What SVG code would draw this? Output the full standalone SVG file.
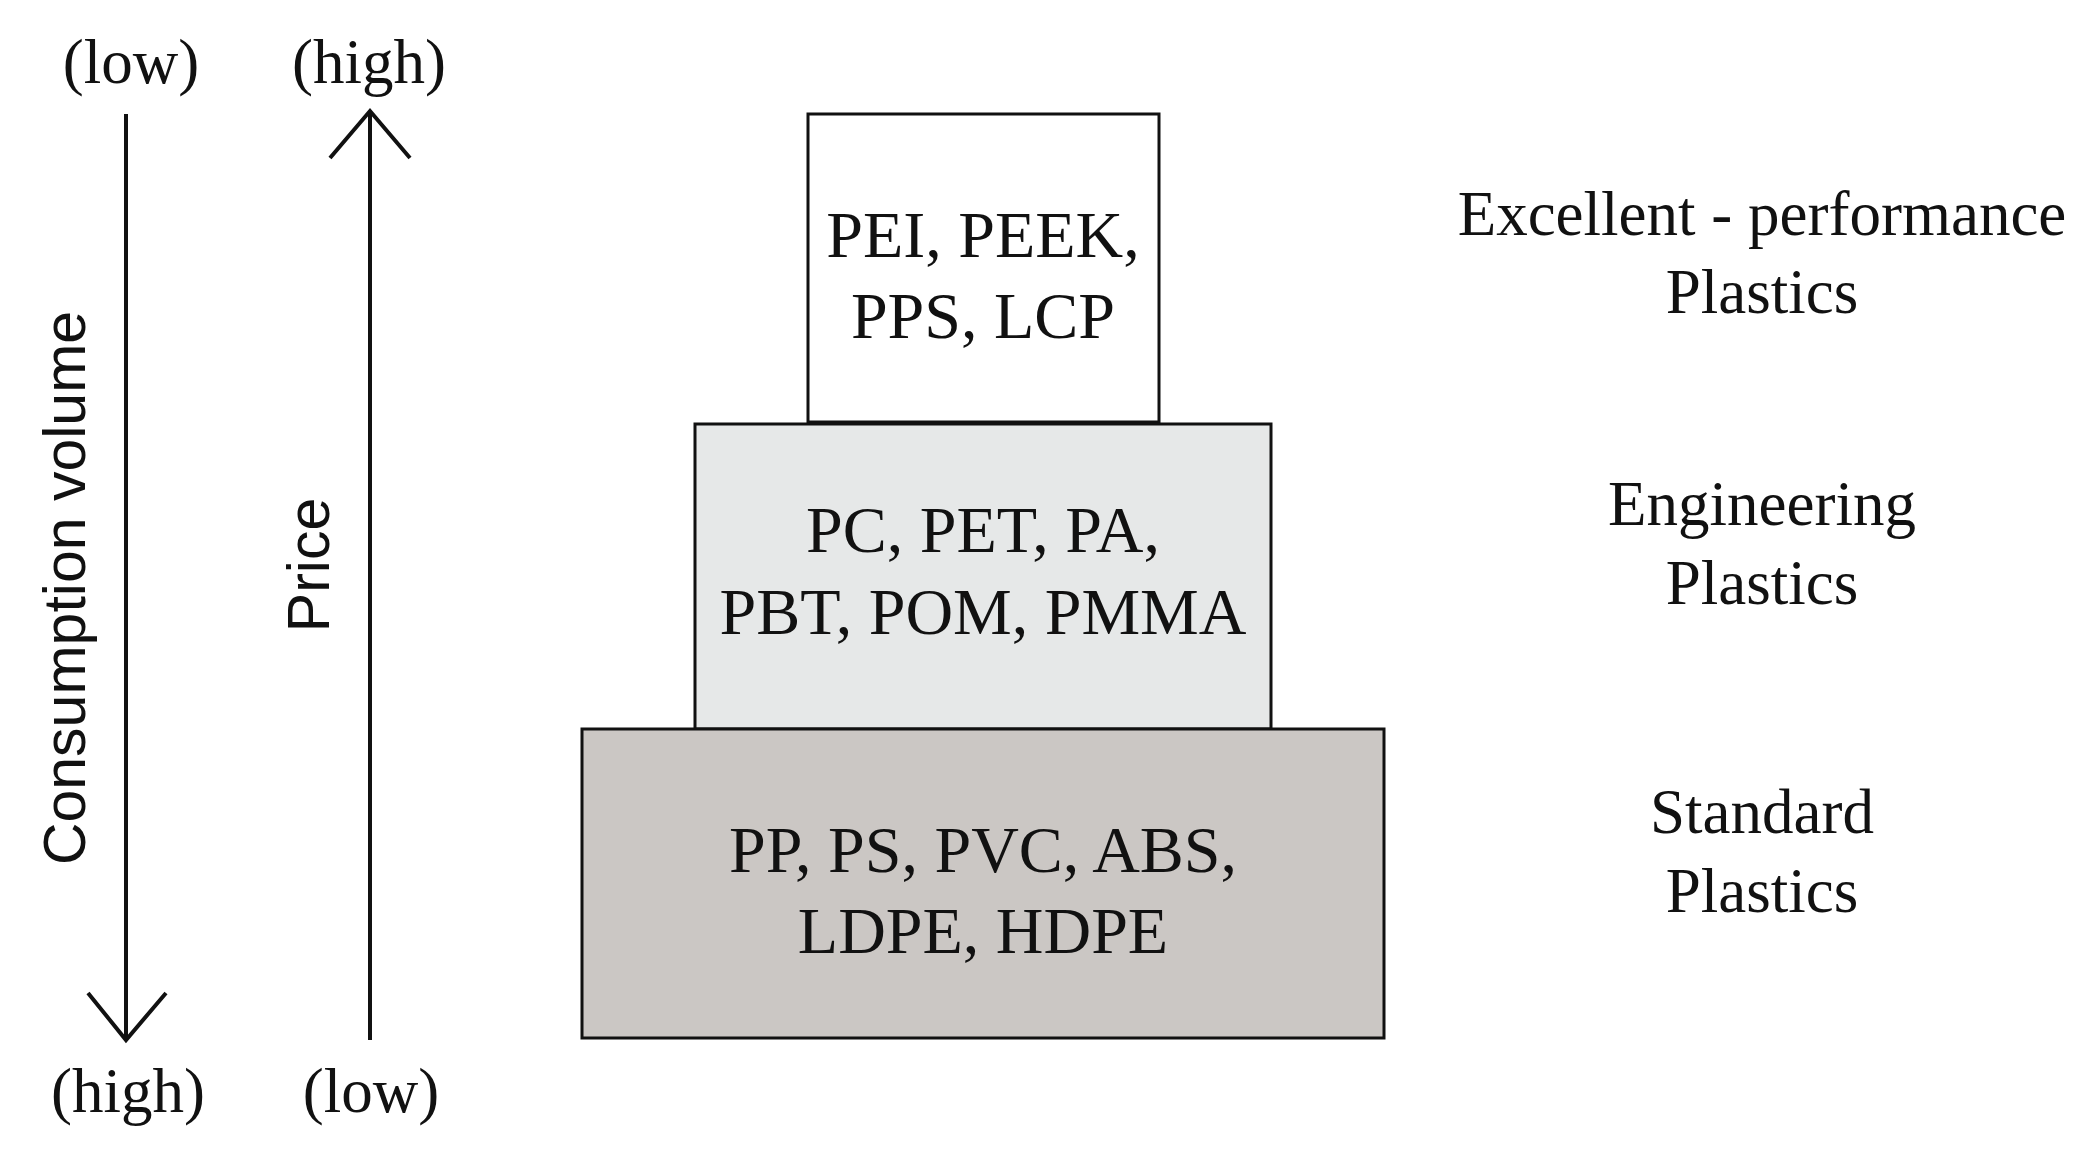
<svg xmlns="http://www.w3.org/2000/svg" width="2090" height="1157" viewBox="0 0 2090 1157">
<style>
.t{font-family:"Liberation Serif","Times New Roman",serif;font-size:66px;text-anchor:middle;fill:#111}
.l{font-family:"Liberation Serif","Times New Roman",serif;font-size:63px;text-anchor:middle;fill:#111}
.s{font-family:"Liberation Sans",Arial,sans-serif;font-size:59px;text-anchor:middle;fill:#111}
.b{stroke:#111;stroke-width:3}
.a{stroke:#111;stroke-width:4;fill:none}
</style>
<rect width="2090" height="1157" fill="#fff"/>
<g id="connectors">
<path class="a" d="M126 114V1038M88 993L126 1040L166 993"/>
<path class="a" d="M370 1040V113M330 158L370 111L410 158"/>
</g>
<g id="axis-labels">
<text class="l" x="131" y="83">(low)</text>
<text class="l" x="369" y="83">(high)</text>
<text class="l" x="128" y="1112">(high)</text>
<text class="l" x="371" y="1112">(low)</text>
<text class="s" transform="translate(85 588) rotate(-90)">Consumption volume</text>
<text class="s" transform="translate(329 565) rotate(-90)">Price</text>
</g>
<g id="top"><rect class="b" x="808" y="114" width="351" height="308" fill="#fff"/>
<text class="t" x="983" y="257">PEI, PEEK,</text><text class="t" x="983" y="338">PPS, LCP</text></g>
<g id="middle"><rect class="b" x="695" y="424" width="576" height="305" fill="#e6e8e8"/>
<text class="t" x="983" y="552">PC, PET, PA,</text><text class="t" x="983" y="634">PBT, POM, PMMA</text></g>
<g id="bottom"><rect class="b" x="582" y="729" width="802" height="309" fill="#cbc7c4"/>
<text class="t" x="983" y="872">PP, PS, PVC, ABS,</text><text class="t" x="983" y="953">LDPE, HDPE</text></g>
<g id="labels">
<text class="l" x="1762" y="235">Excellent - performance</text><text class="l" x="1762" y="313">Plastics</text>
<text class="l" x="1762" y="525">Engineering</text><text class="l" x="1762" y="604">Plastics</text>
<text class="l" x="1762" y="833">Standard</text><text class="l" x="1762" y="912">Plastics</text>
</g>
</svg>
